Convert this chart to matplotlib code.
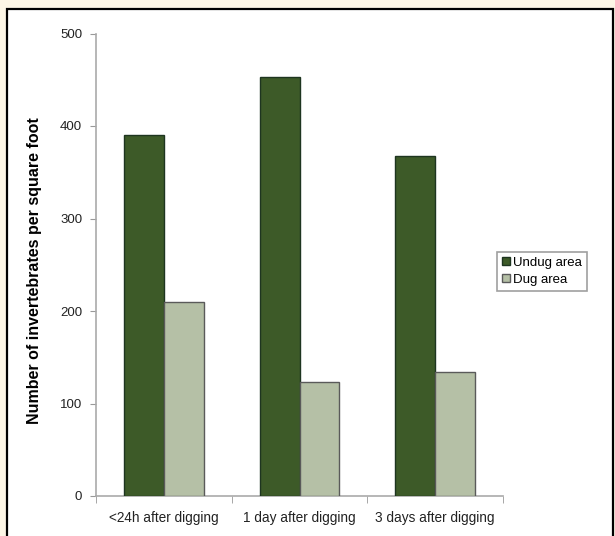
import numpy as np
import matplotlib
matplotlib.use("Agg")
import matplotlib.pyplot as plt
from matplotlib.patches import Rectangle

# data
categories = ["<24h after digging", "1 day after digging", "3 days after digging"]
undug = [390, 453, 368]
dug = [210, 123, 134]
yticks = [0, 100, 200, 300, 400, 500]

plt.rcParams['font.family'] = ['Liberation Sans', 'DejaVu Sans']

fig = plt.figure(figsize=(6.15, 5.36), dpi=100)
fig.patch.set_facecolor("#fdf6e6")

# white framed panel behind the chart
panel = Rectangle((7 / 615, -0.05), (613 - 7) / 615, 1 - 9 / 536 + 0.05,
                  transform=fig.transFigure, facecolor="white",
                  edgecolor="black", linewidth=1.6, zorder=-5)
fig.patches.append(panel)

ax = fig.add_axes([96 / 615, 1 - 496 / 536, (503 - 96) / 615, (496 - 33.5) / 536])
ax.set_facecolor("none")
ax.set_zorder(2)

x = np.arange(len(categories))
w = 0.294
ax.bar(x - w / 2, undug, w, color="#3d5a28", edgecolor="#1e3520",
       linewidth=1.0, label="Undug area", zorder=3)
ax.bar(x + w / 2, dug, w, color="#b5c0a6", edgecolor="#5a5a5a",
       linewidth=1.0, label="Dug area", zorder=3)

ax.set_xlim(-0.5, 2.5)
ax.set_ylim(0, 500)
ax.set_yticks(yticks)
ax.set_xticks(x)
ax.set_xticklabels(categories, fontsize=9.8, color="#222222")
ax.set_xticks([-0.5, 0.5, 1.5, 2.5], minor=True)
ax.tick_params(axis="x", which="major", length=0, pad=11)
ax.tick_params(axis="x", which="minor", length=5, color="#999999", direction="out")
ax.tick_params(axis="y", length=4, color="#999999", labelsize=9.5,
               labelcolor="#222222", pad=6)

for s in ["top", "right"]:
    ax.spines[s].set_visible(False)
for s in ["left", "bottom"]:
    ax.spines[s].set_color("#aaaaaa")
    ax.spines[s].set_linewidth(1.2)

fig.text(35 / 615, 1 - 271 / 536, "Number of invertebrates per square foot",
         rotation=90, ha="center", va="center", fontsize=11.5, fontweight="bold")

leg = ax.legend(loc="upper left", bbox_to_anchor=(497 / 615, 1 - 252 / 536),
                bbox_transform=fig.transFigure, fontsize=9.5, frameon=True,
                fancybox=False, shadow=False, handlelength=0.6, handleheight=0.6,
                handletextpad=0.3, borderpad=0.35, labelspacing=0.4,
                borderaxespad=0)
leg.get_frame().set_edgecolor("#888888")
leg.get_frame().set_linewidth(1.2)

fig.savefig("out.png", dpi=100, facecolor=fig.get_facecolor())
